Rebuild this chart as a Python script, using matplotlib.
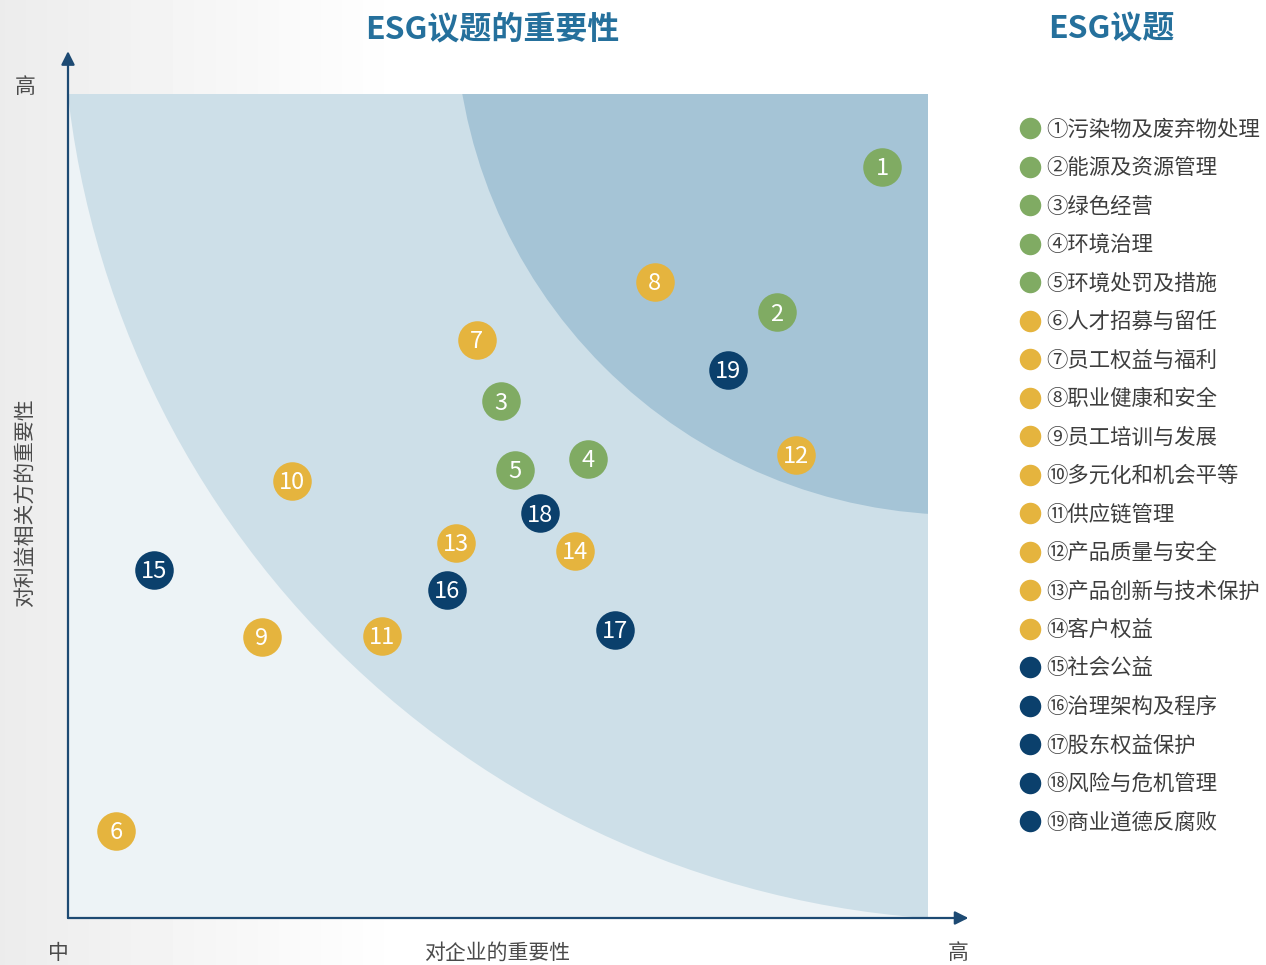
import numpy as np
import matplotlib.pyplot as plt
from matplotlib.patches import Ellipse

plt.rcParams['font.family'] = ['Noto Sans CJK SC', 'DejaVu Sans']

# issue numbers, importance to company (x) and to stakeholders (y), 0-10 scale
ids = [1, 2, 3, 4, 5, 6, 7, 8, 9, 10, 11, 12, 13, 14, 15, 16, 17, 18, 19]
x_company = [9.47, 8.24, 5.03, 6.05, 5.20, 0.56, 4.75, 6.82, 2.25, 2.60, 3.65, 8.46, 4.51, 5.90, 1.00, 4.41, 6.36, 5.49, 7.67]
y_stake = [9.11, 7.35, 6.27, 5.57, 5.44, 1.06, 7.02, 7.72, 3.41, 5.30, 3.42, 5.62, 4.55, 4.45, 4.22, 3.98, 3.50, 4.91, 6.65]
groups = ['E', 'E', 'E', 'E', 'E', 'S', 'S', 'S', 'S', 'S', 'S', 'S', 'S', 'S', 'G', 'G', 'G', 'G', 'G']

legend_labels = ['①污染物及废弃物处理', '②能源及资源管理', '③绿色经营', '④环境治理', '⑤环境处罚及措施',
                 '⑥人才招募与留任', '⑦员工权益与福利', '⑧职业健康和安全', '⑨员工培训与发展',
                 '⑩多元化和机会平等', '⑪供应链管理', '⑫产品质量与安全', '⑬产品创新与技术保护',
                 '⑭客户权益', '⑮社会公益', '⑯治理架构及程序', '⑰股东权益保护', '⑱风险与危机管理',
                 '⑲商业道德反腐败']

colors = {'E': '#80ab63', 'S': '#e5b43e', 'G': '#0b406c'}
title_color = '#25709c'
axis_color = '#1d4a73'
text_grey = '#4a4a4a'

W, H = 1266, 965
fig = plt.figure(figsize=(W / 100, H / 100), dpi=100)

# soft grey-to-white background on the left
bg = fig.add_axes([0, 0, 1, 1], zorder=-10)
grad = np.clip(0.925 + np.linspace(0, 1, W) * 0.075 / 0.32, 0, 1)
bg.imshow(np.tile(grad, (10, 1)), cmap='gray', vmin=0, vmax=1, aspect='auto',
          extent=[0, 1, 0, 1])
bg.axis('off')

# main plot area
ax = fig.add_axes([68 / W, (H - 918) / H, 860 / W, 824 / H])
ax.set_xlim(0, 10)
ax.set_ylim(0, 10)
ax.set_facecolor('#edf3f6')
for s in ax.spines.values():
    s.set_visible(False)
ax.set_xticks([])
ax.set_yticks([])

# importance zones (arcs clipped by the axes)
ax.add_patch(Ellipse((10.76, 11.27), 2 * 10.83, 2 * 11.30, color='#cddfe8', lw=0, zorder=1))
ax.add_patch(Ellipse((10.395, 11.044), 2 * 5.895, 2 * 6.153, color='#a5c4d6', lw=0, zorder=2))

# axis arrows
ax.annotate('', xy=(10.47, 0), xytext=(0, 0), annotation_clip=False,
            arrowprops=dict(arrowstyle='-|>,head_length=0.8,head_width=0.4', color=axis_color,
                            lw=1.6, shrinkA=0, shrinkB=0), zorder=5)
ax.annotate('', xy=(0, 10.52), xytext=(0, 0), annotation_clip=False,
            arrowprops=dict(arrowstyle='-|>,head_length=0.8,head_width=0.4', color=axis_color,
                            lw=1.6, shrinkA=0, shrinkB=0), zorder=5)

# issue bubbles
for i, xv, yv, g in zip(ids, x_company, y_stake, groups):
    ax.scatter(xv, yv, s=770, color=colors[g], zorder=6, linewidths=0)
    ax.text(xv, yv - 0.02, str(i), color='white', fontsize=17, ha='center', va='center', zorder=7)

# axis captions
fig.text(25 / W, 1 - 87 / H, '高', fontsize=15, color=text_grey, ha='center', va='center')
fig.text(58 / W, 1 - 953 / H, '中', fontsize=15, color=text_grey, ha='center', va='center')
fig.text(958 / W, 1 - 953 / H, '高', fontsize=15, color=text_grey, ha='center', va='center')
fig.text(497 / W, 1 - 953 / H, '对企业的重要性', fontsize=15, color=text_grey, ha='center', va='center')
fig.text(25 / W, 1 - 503 / H, '对利益相关方的重要性', fontsize=15, color=text_grey,
         ha='center', va='center', rotation=90)

# titles
fig.text(492 / W, 1 - 29 / H, 'ESG议题的重要性', fontsize=23, color=title_color,
         fontweight='bold', ha='center', va='center')
fig.text(1111 / W, 1 - 29 / H, 'ESG议题', fontsize=23, color=title_color,
         fontweight='bold', ha='center', va='center')

# legend
lg = fig.add_axes([0, 0, 1, 1], zorder=8)
lg.set_xlim(0, W)
lg.set_ylim(H, 0)
lg.axis('off')
for k, (lab, g) in enumerate(zip(legend_labels, groups)):
    yy = 128 + k * 38.5
    lg.scatter(1030, yy, s=240, color=colors[g], linewidths=0)
    lg.text(1046, yy + 1.5, lab, fontsize=15.4, color='#3d3d3d', ha='left', va='center')

fig.savefig('out.png', dpi=100)
